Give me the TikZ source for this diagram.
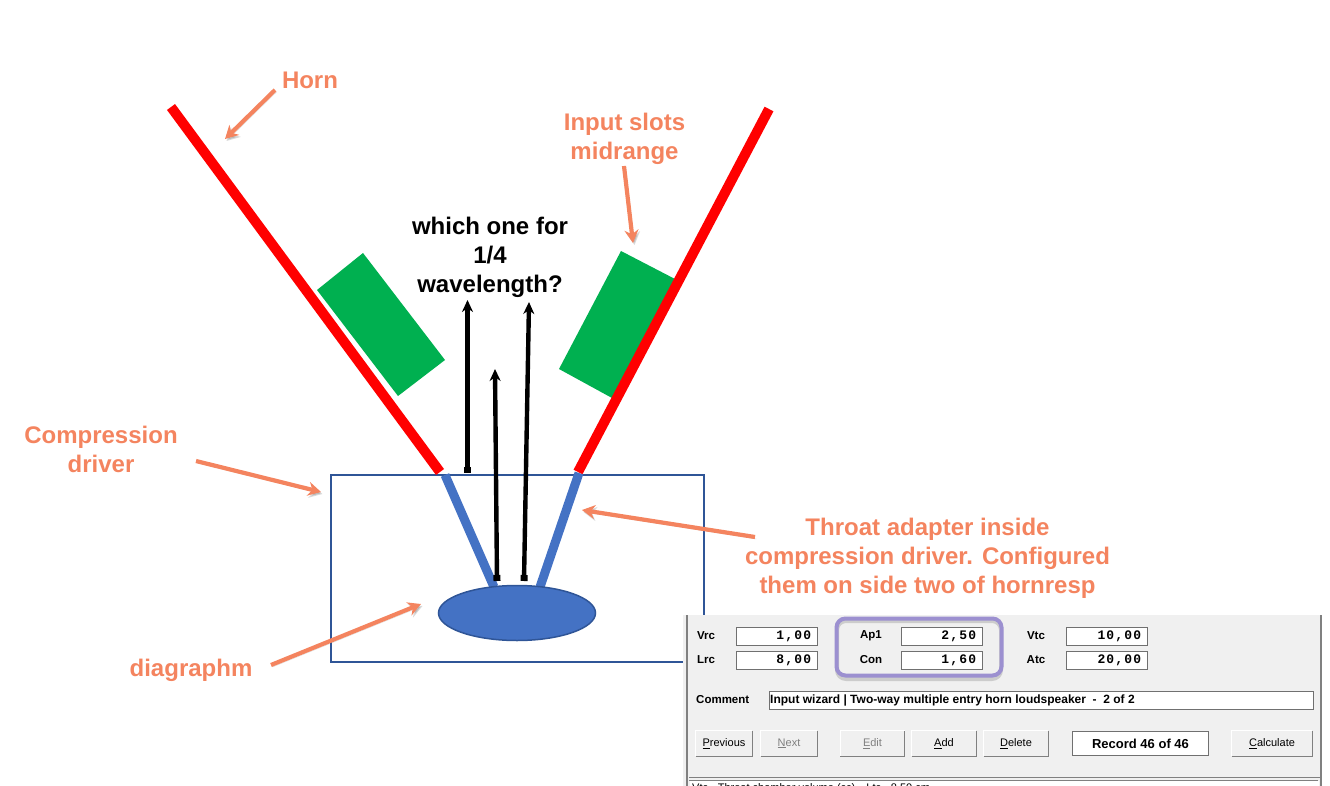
\documentclass[tikz,border=0pt]{standalone}
\usepackage{fontspec}
\setmainfont{Liberation Sans}
\newfontfamily\fieldfont[LetterSpace=9]{Liberation Mono}
\usetikzlibrary{arrows.meta,calc,shapes.geometric}
\definecolor{salmon}{HTML}{F4845F}
\definecolor{hornred}{HTML}{FF0000}
\definecolor{slotgreen}{HTML}{00B050}
\definecolor{adapter}{HTML}{4472C4}
\definecolor{boxblue}{HTML}{2F5597}
\definecolor{panel}{HTML}{F0F0F0}
\definecolor{purp}{HTML}{9C90D0}
\definecolor{fieldline}{HTML}{707070}
\tikzset{
 lbl/.style={text=salmon,font=\fontsize{24}{29}\selectfont\bfseries,align=center,inner sep=0pt},
 callout/.style={salmon,line width=4.2pt,-{Stealth[length=13pt,width=14pt]},
   preaction={draw=black,opacity=.15,transform canvas={shift={(1.5pt,-2pt)}}}},
 hornwall/.style={hornred,line width=10pt},
 throat/.style={adapter,line width=9pt},
 ray/.style={black,line width=4.4pt,{Square[length=6pt,width=7pt]}-{Stealth[length=12pt,width=11pt]}},
 slot/.style={fill=slotgreen,draw=none},
 field/.style={draw=fieldline,fill=white,line width=.8pt,minimum width=81pt,minimum height=18pt,inner sep=0pt},
 fieldtxt/.style={font=\fontsize{13}{15}\selectfont\fieldfont\bfseries,anchor=east,inner sep=0pt},
 flabel/.style={font=\fontsize{11.5}{14}\selectfont\bfseries,inner sep=0pt},
 btn/.style={draw=none,fill=panel,minimum width=56pt,minimum height=25pt,inner sep=0pt,font=\fontsize{11}{14}\selectfont},
}
\newcommand{\winbtn}[4]{%
 \node[btn,#4] (#1) at (#2) {#3};
 \draw[white,line width=1pt] (#1.south west)--(#1.north west)--(#1.north east);
 \draw[gray,line width=1.4pt] (#1.north east)--(#1.south east)--(#1.south west);
}
\begin{document}
\begin{tikzpicture}[x=1pt,y=-1pt]
\useasboundingbox (0,0) rectangle (1330,786);
% driver box
\node[draw=boxblue,line width=1.5pt,minimum width=373pt,minimum height=187pt,inner sep=0pt] (driver) at (517.5,568.5) {};
% slots
\fill[slot] (363,253)--(445,360)--(398,396)--(317,290)--cycle;
\fill[slot] (621,251)--(675,279)--(612,398)--(559,369)--cycle;
% horn
\coordinate (hl0) at (171,107); \coordinate (hl1) at (440,472);
\coordinate (hr0) at (769,109); \coordinate (hr1) at (578,472);
\draw[hornwall] (hl0)--(hl1);
\draw[hornwall] (hr0)--(hr1);
% throat
\coordinate (tl0) at (445,475); \coordinate (tl1) at (494,587);
\coordinate (tr0) at (579,473); \coordinate (tr1) at (540,587);
\draw[throat] (tl0)--(tl1);
\draw[throat] (tr0)--(tr1);
% diaphragm
\node[ellipse,draw=boxblue,fill=adapter,line width=1.5pt,minimum width=157pt,minimum height=55pt,inner sep=0pt] (diaph) at (517,613) {};
% rays
\coordinate (r1a) at (467.5,473); \coordinate (r1b) at (467.5,300);
\coordinate (r2a) at (497,581); \coordinate (r2b) at (495,369);
\coordinate (r3a) at (524,581); \coordinate (r3b) at (529,302);
\draw[ray] (r1a)--(r1b);
\draw[ray] (r2a)--(r2b);
\draw[ray] (r3a)--(r3b);
% texts
\node[font=\fontsize{24}{29}\selectfont\bfseries,align=center,inner sep=0pt] (q) at (490,257) {which one for\\1/4\\wavelength?};
\node[lbl] (horn) at (310,80) {Horn};
\node[lbl] (slots) at (624.5,139) {Input slots\\midrange};
\node[lbl] (comp) at (101,449.5) {Compression\\driver};
\node[lbl] (dia) at (191,670) {diagraphm};
\node[lbl] (thr) at (927.5,558) {Throat adapter inside\\compression driver. Configured\\them on side two of hornresp};
% callouts
\coordinate (c1a) at (275,90); \coordinate (c1b) at (225,139);
\coordinate (c2a) at (624,166); \coordinate (c2b) at (633,243);
\coordinate (c3a) at (196,461); \coordinate (c3b) at (321,492);
\coordinate (c4a) at (755,537); \coordinate (c4b) at (582,510);
\coordinate (c5a) at (271,665); \coordinate (c5b) at (421,604);
\draw[callout] (c1a)--(c1b);
\draw[callout] (c2a)--(c2b);
\draw[callout] (c3a)--(c3b);
\draw[callout] (c4a)--(c4b);
\draw[callout] (c5a)--(c5b);
% panel
\begin{scope}
\clip (0,0) rectangle (1330,786);
\node[draw=none,fill=panel,minimum width=638pt,minimum height=176pt,inner sep=0pt] (panelbox) at (1002,703) {};
\draw[gray,line width=1.2pt] (687,615)--(687,786);
\draw[gray,line width=1.2pt] (1321,615)--(1321,786);
\draw[gray,line width=.8pt] (689,777)--(1320,777)  (689,780)--(1318,780);
\node[draw=none,fill=white,minimum width=629pt,minimum height=6pt,inner sep=0pt] (status) at (1004,783.5) {};
\node[font=\fontsize{11}{13}\selectfont,anchor=base west,inner sep=0pt] (statustxt) at (692,791) {Vtc - Throat chamber volume (cc)\quad Ltc - 8.50 cm};
\end{scope}
% highlight shadow and outline
\draw[black,opacity=.15,line width=4pt,rounded corners=9pt] (837,621) rectangle (1001,679);
\node[draw=purp,line width=4pt,rounded corners=9pt,minimum width=165pt,minimum height=57pt,inner sep=0pt] (hl) at (919,647) {};
% fields
\foreach \nm/\lb/\lx/\fx/\fy/\val in {a/Vrc/706/776.5/636/{1,00},b/Lrc/706/776.5/660/{8,00},c/Ap1/871/941.5/636/{2,50},d/Con/871/941.5/660/{1,60},e/Vtc/1036/1106.5/636/{10,00},f/Atc/1036/1106.5/660/{20,00}}{
 \node[field] (f\nm) at (\fx,\fy) {};
 \node[fieldtxt] (v\nm) at ($(f\nm.east)+(-6,0)$) {\val};
 \node[flabel] (l\nm) at (\lx,\fy) {\lb};
}
\node[flabel,anchor=west] (commentl) at (696,700) {Comment};
\node[draw=fieldline,fill=white,line width=.8pt,minimum width=544pt,minimum height=18pt,inner sep=0pt] (comment) at (1041,700.5) {};
\node[flabel,font=\fontsize{12}{14}\selectfont\bfseries,anchor=west] (commentt) at (770,700) {Input wizard | Two-way multiple entry horn loudspeaker\ \ -\ \ 2 of 2};
\winbtn{bprev}{724,743.5}{\underline{P}revious}{}
\winbtn{bnext}{789,743.5}{\textcolor{gray}{\underline{N}ext}}{}
\winbtn{bedit}{872.5,743.5}{\textcolor{gray}{\underline{E}dit}}{minimum width=64pt}
\winbtn{badd}{944,743.5}{\underline{A}dd}{minimum width=64pt}
\winbtn{bdel}{1016,743.5}{\underline{D}elete}{minimum width=64pt}
\node[draw=fieldline,fill=white,line width=.8pt,minimum width=136pt,minimum height=24pt,inner sep=0pt,font=\fontsize{13}{15}\selectfont\bfseries] (rec) at (1140.5,743.5) {Record 46 of 46};
\winbtn{bcalc}{1272,743.5}{\underline{C}alculate}{minimum width=80pt}
\end{tikzpicture}
\end{document}
